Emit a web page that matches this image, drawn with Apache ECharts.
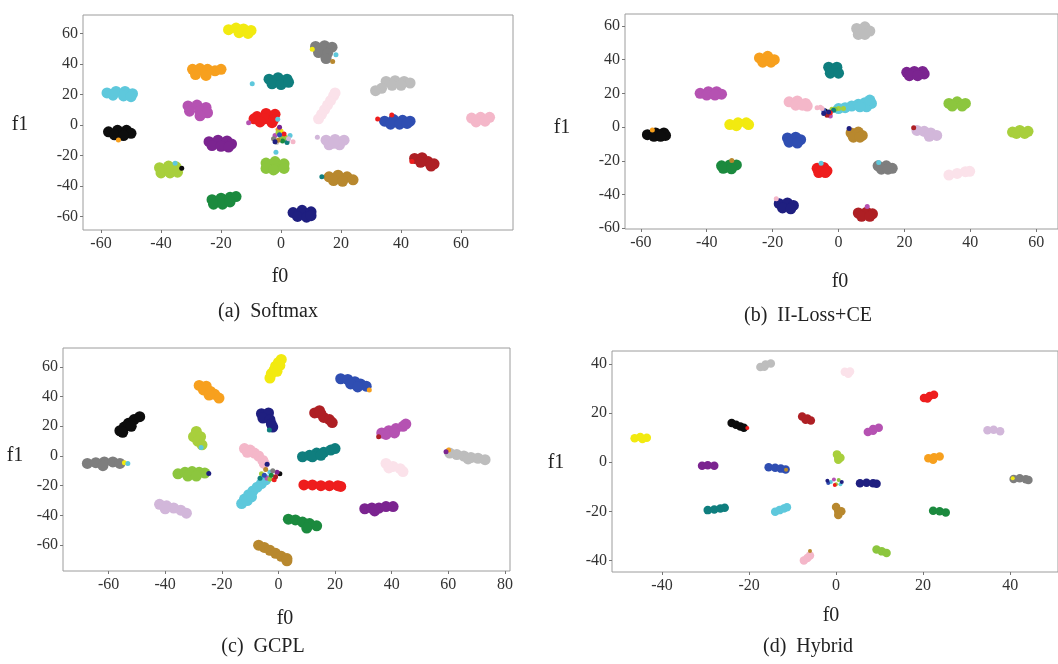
<!DOCTYPE html>
<html>
<head>
<meta charset="utf-8">
<script src="https://cdn.jsdelivr.net/npm/echarts@6/dist/echarts.min.js"></script>
<style>
html,body{margin:0;padding:0;background:#fff;}
#chart{width:1058px;height:664px;}
</style>
</head>
<body>
<div id="chart"></div>
<script>
// ---- classes ----
const classNames = ['black','yellow','orange','cyan','magenta','purple','yellowgreen','lime','green','gray',
  'teal','red','faintpink','silver','blue','lavender','darkred','gold','navy','pink'];
const classColors = ['#0d0d0d','#f2ea10','#f7a01e','#5ec8dc','#b552b2','#7b2490','#a8cf3c','#8cc63e','#1b8a3e','#7e7e7e',
  '#0f7e7e','#ee1d1d','#fbe2ea','#bdbdbd','#2f4eb2','#d2b7da','#ae1f24','#b8882e','#1f1f80','#f4b7c9'];

// ---- panel titles / axis tick values ----
const panelTitles = ['(a)  Softmax', '(b)  II-Loss+CE', '(c)  GCPL', '(d)  Hybrid'];
const xTicksA = [-60,-40,-20,0,20,40,60];
const yTicksA = [-60,-40,-20,0,20,40,60];
const xTicksB = [-60,-40,-20,0,20,40,60];
const yTicksB = [-60,-40,-20,0,20,40,60];
const xTicksC = [-60,-40,-20,0,20,40,60,80];
const yTicksC = [-60,-40,-20,0,20,40,60];
const xTicksD = [-40,-20,0,20,40];
const yTicksD = [-40,-20,0,20,40];

// ---- (a) Softmax: [class, points] ----
const softmaxClusters = [
  [1, [[-17.5,62.5],[-15,63.5],[-12.5,63],[-10,62],[-14,60.5],[-11,60]]],
  [9, [[11.5,51.5],[14.5,52],[17,51],[12.5,47.5],[15.5,47],[15,43.5]]],
  [2, [[-29.5,36.5],[-27,37],[-24.5,36.5],[-22,35.5],[-28.5,33],[-25,32.5],[-20,36.5]]],
  [10, [[-4,30],[-1,31],[2,30],[-3,27],[0,26.5],[2.5,28]]],
  [3, [[-58,21],[-55,22],[-52,22],[-49.5,20.5],[-56,19.5],[-52.5,19],[-50,18.5]]],
  [13, [[35,28.5],[38,29],[41,28.5],[43,27.5],[37,26],[40,26],[33.5,24],[31.5,22.5]]],
  [12, [[12.5,4],[13.5,7],[14.5,10],[15.5,13],[16.5,16],[17.5,19],[18,21]]],
  [4, [[-31,12.5],[-28,13],[-25,11.5],[-30.5,9],[-27,9],[-24.5,8],[-27,6]]],
  [11, [[-8,5.5],[-5,7.5],[-2,7],[-9,4],[-5.5,4],[-2.5,3.5],[-7,2],[-3,1.5]]],
  [14, [[34.5,2.5],[37.5,3.5],[40.5,3],[43,2.5],[36.5,0.5],[39.5,0.5],[42,1]]],
  [19, [[63.5,4.5],[66.5,5],[69.5,5],[65,2],[68,2.5]]],
  [0, [[-57.5,-4.5],[-54.5,-3.5],[-51.5,-3.5],[-50,-5.5],[-55.5,-6.5],[-52.5,-7]]],
  [5, [[-24,-11],[-21,-10],[-18,-10.5],[-16.5,-12.5],[-23,-13.5],[-20,-14],[-17.5,-14.5]]],
  [15, [[15,-10],[18,-9.5],[21,-10],[16,-13],[19.5,-13],[17.5,-12]]],
  [6, [[-40.5,-28],[-37.5,-27],[-35,-27.5],[-40,-31.5],[-37,-31.5],[-34.5,-31]]],
  [7, [[-5,-25],[-2,-24],[1,-25.5],[-5,-28.5],[-2,-28.5],[1,-28.5],[-2.5,-29.5]]],
  [17, [[16,-34],[19,-33],[22,-34],[24,-36],[17.5,-36.5],[20.5,-37]]],
  [16, [[44.5,-22],[47,-21.5],[49,-24],[51,-25.5],[46.5,-24.5],[50,-27]]],
  [8, [[-23,-49],[-20,-48],[-17,-47.5],[-15,-47],[-22.5,-52],[-19.5,-52],[-17,-50.5]]],
  [18, [[4,-57.5],[7,-56],[10,-57],[5.5,-60],[8.5,-60.5],[10,-59.5]]]
];
const softmaxStray = [
  [1,10.4,49.7],[3,18.3,46],[17,17.2,41.6],[3,-9.6,27],[11,32.2,3.9],[11,36.9,6.6],[2,-54.2,-9.8],
  [15,12.1,-8.1],[3,-35.3,-25.2],[0,-33.1,-28.4],[3,-1.7,-17.9],[10,13.6,-33.9],[11,43.6,-24],
  [3,-1.1,3.7],[4,-10.8,1.5],
  [6,-1,-5],[4,-2,-7],[7,0,-8],[9,-2.5,-9],[17,-1,-10],[11,1,-6],[8,0.5,-10.5],[18,-2,-11],
  [15,2.5,-9],[6,1.5,-8],[14,-0.5,-6.5],[0,2,-10],[19,4,-11],[2,-1,-3],[5,-0.5,-1.5],[7,1,-9.5],
  [13,-1.5,-11.5],[3,3,-7],[1,0,-4],[10,2,-11.5]
];

// ---- (b) II-Loss+CE ----
const iilossClusters = [
  [13, [[5.5,58.5],[8,59.5],[9.5,57],[6,55],[8,55]]],
  [2, [[-24,41],[-21.5,42],[-19.5,40],[-23,38.5],[-20.5,38.5]]],
  [10, [[-3,35.5],[-0.5,35.5],[-2.5,32],[0,32]]],
  [5, [[20.7,32.5],[23,33],[25.5,33],[26,31.5],[21.5,30.5],[24,30.5]]],
  [4, [[-42,20],[-39.5,21],[-37,21],[-35.5,19.5],[-40,19],[-37.5,19]]],
  [19, [[-15,15],[-12.5,15.5],[-10,14],[-9.5,12.5],[-13,13],[-11,13]]],
  [3, [[0,11],[2,11.5],[4,12.5],[6,13.5],[8,14.5],[10,14],[8.5,12],[6.5,12],[9.5,16]]],
  [7, [[33.5,14],[36,15],[38.5,14],[34.5,12.5],[37.5,12.5]]],
  [1, [[-33,1.5],[-30.5,2.5],[-28,2.5],[-27.3,1.5],[-31,0.8]]],
  [0, [[-58,-4.5],[-55.5,-3.5],[-53,-3.5],[-52.5,-5],[-56,-5.5],[-54,-5.5]]],
  [14, [[-15.5,-6.5],[-13,-6],[-11.5,-7.5],[-15,-9],[-12.5,-9.5]]],
  [17, [[3.8,-3.5],[6,-3],[7.2,-5],[4.5,-6],[6.5,-6]]],
  [15, [[23.8,-2],[26,-2.5],[28,-3.5],[29.8,-5],[27.5,-5.5]]],
  [6, [[52.8,-3],[55,-2],[57.5,-2.5],[54,-3.8],[56.5,-3.8]]],
  [8, [[-35.5,-23],[-33,-22.5],[-31,-22.5],[-35,-24.5],[-32.5,-24.8]]],
  [11, [[-6.5,-24.5],[-4.5,-24],[-3.5,-26],[-6,-27],[-4,-27]]],
  [9, [[12,-23],[14.5,-23],[16.3,-24.5],[13,-25],[15,-25]]],
  [12, [[33.5,-28.5],[36,-27.5],[38.5,-26.5],[39.8,-26.3]]],
  [18, [[-18,-45.5],[-15.5,-45],[-13.7,-46.5],[-17,-48],[-14.5,-48.5]]],
  [16, [[6,-51],[8.5,-50.5],[10.3,-51.5],[7,-53],[9.5,-53]]]
];
const iilossStray = [
  [2,-56.5,-1.8],[18,3.2,-0.8],[16,22.8,-0.4],[17,-32.4,-19.9],[3,-5.3,-21.5],[3,12.2,-21.1],
  [19,-18.9,-42.6],[4,8.7,-47.1],
  [14,-4.5,10],[18,-3,9],[6,-2,10.5],[4,-3.5,8],[19,-5,11],[10,-1.5,10],[0,-4,9.5],[11,-2.5,8.5],
  [3,-1,11],[16,-3.5,7],[7,-1,10.5],[6,0,11],[6,1.5,11],[19,-6.5,11.5],[19,-5.5,11.8],[18,-4.5,8],[4,-2.5,6.5]
];

// ---- (c) GCPL ----
const gcplClusters = [
  [1, [[-3,52.5],[-2.5,55.5],[-1.5,58],[-1,60.5],[0,63],[1,65],[-0.5,57],[0.5,61]]],
  [2, [[-28,47.5],[-25.5,47],[-26.5,44.5],[-24,43.5],[-22.5,41.5],[-21,39],[-24.5,41]]],
  [14, [[22,52],[24.5,51.5],[27,50],[29,48.5],[31,47],[25.5,48.5],[28,46.5]]],
  [0, [[-56,17],[-54.5,19.5],[-53,22],[-51,24.5],[-49,26.5],[-55,16],[-52,20]]],
  [18, [[-6,28.5],[-3.5,29],[-5.5,25.5],[-3,24.5],[-2.5,21.5],[-2,19.5]]],
  [16, [[12.8,29],[15,28.5],[16,26],[18,24.5],[19,22.5],[14.5,30.5]]],
  [4, [[36.5,15.5],[39,17],[41.5,18.5],[44,20],[45,21.5],[38,14.5],[41,15.5]]],
  [6, [[-29,16.5],[-30,13],[-27.5,13],[-28.5,10],[-27,7.5]]],
  [19, [[-12,5],[-10,4],[-8.5,2],[-7,0],[-5.5,-3],[-5,-5],[-11,2.5]]],
  [10, [[8.5,-0.5],[11,0.5],[13.5,2],[16,2.5],[18.5,4],[20,5],[12,-0.5],[15,0.5]]],
  [12, [[38,-5],[40.5,-7],[43,-8.5],[44,-10.5],[39,-8]]],
  [13, [[60.5,2],[63,1],[65.5,0],[68,-1],[70.5,-1.5],[73,-2.5],[67,-2]]],
  [9, [[-67.5,-5],[-64.5,-4.5],[-61.5,-4],[-58.5,-4],[-56,-5],[-62,-6.5]]],
  [7, [[-35.5,-12],[-33,-11],[-30.5,-10.5],[-28,-11],[-26,-11.5],[-32,-13.5],[-29,-13.5]]],
  [3, [[-13,-32],[-12,-29],[-10.5,-26],[-9,-23.5],[-7.5,-21],[-6,-18.5],[-4.5,-16],[-11,-30],[-9.5,-27.5]]],
  [11, [[9,-19.5],[12,-19.5],[15,-20],[18,-20],[21,-20],[22,-20.5]]],
  [15, [[-42,-32.5],[-39.5,-33.5],[-37,-35],[-34.5,-36.5],[-32.5,-38.5],[-40,-35.5]]],
  [5, [[30.5,-35.5],[33,-35],[35.5,-35],[38,-34],[40.5,-34],[34,-37]]],
  [8, [[3.5,-42.5],[6,-43],[8.5,-44.5],[11,-45.5],[13.5,-47],[10,-48.5]]],
  [17, [[-7,-60],[-5,-61.5],[-3,-63.5],[-1,-65.5],[1,-67.5],[3,-69],[3,-70.5]]]
];
const gcplStray = [
  [2,32.1,44.5],[10,-3.2,17.5],[16,35.4,13],[3,-27.3,5.8],[2,60.1,4],[5,59.2,2.9],[1,-54.4,-4.5],
  [3,-53.2,-5],[18,-24.6,-11.7],
  [18,-4,-5.5],[0,0.5,-12],[11,-1.5,-16],[4,-4,-15],[3,-3,-11],[14,-5,-13],[6,-6,-12],[9,-2,-10],
  [16,-1,-14],[7,-3,-15.5],[17,-4.5,-9],[5,-0.5,-11],[8,-2.5,-13],[10,-6.5,-15]
];

// ---- (d) Hybrid ----
const hybridClusters = [
  [13, [[-17.4,38.8],[-16.2,39.8],[-15,40.2],[-16.5,38.9]]],
  [12, [[2,36.8],[3.2,37],[2.8,36]]],
  [11, [[20.2,26.2],[21.5,27],[22.5,27.5],[21,26]]],
  [0, [[-24,16],[-23,15.3],[-22,14.6],[-21.2,14]]],
  [16, [[-7.8,18.6],[-6.6,17.8],[-5.8,17],[-7,17.3]]],
  [4, [[7.3,12.3],[8.5,13.5],[9.8,14],[8.5,12.8]]],
  [15, [[34.8,13],[36.2,13.2],[37.7,12.6]]],
  [1, [[-46.3,9.8],[-45,10.3],[-43.5,10],[-44.5,9.5]]],
  [6, [[0.2,3.2],[0.5,2],[0.5,1],[1,1.8]]],
  [2, [[21.2,1.6],[22.5,2],[23.8,2.3],[22.3,1]]],
  [5, [[-30.8,-1.4],[-29.5,-1.2],[-28,-1.4]]],
  [14, [[-15.5,-2],[-14,-2.2],[-12.7,-2.6],[-11.6,-3]]],
  [18, [[5.5,-8.6],[7,-8.4],[8.5,-8.6],[9.3,-8.8]]],
  [9, [[40.8,-6.8],[42.2,-6.5],[43.6,-6.9],[44.2,-7.2]]],
  [10, [[-29.5,-19.5],[-28,-19.2],[-26.6,-18.8],[-25.6,-18.5]]],
  [3, [[-14,-20.2],[-13,-19.5],[-12,-18.8],[-11.3,-18.3]]],
  [17, [[0,-18.2],[0.5,-20],[0.5,-21.5],[1.2,-20]]],
  [8, [[22.3,-19.8],[23.8,-20],[25.2,-20.5]]],
  [7, [[9.3,-35.5],[10.5,-36.3],[11.6,-37]]],
  [19, [[-7.4,-40],[-6.6,-39],[-6,-38]]]
];
const hybridStray = [
  [11,-20.4,13.9],[17,-11.5,-3.1],[1,40.6,-6.5],[17,-6,-36.1],
  [18,1.3,-8],[3,-1.2,-8],[4,-0.5,-7],[6,0,-9],[14,-1.8,-8.5],[7,0.6,-7.2],[11,-0.3,-9.3],[18,-2,-7.5],[3,1,-9]
];

// ---- layout (pixels) ----
const grids = [
  {left:83, top:15, width:430, height:215},
  {left:625, top:14, width:437, height:215},
  {left:63, top:348, width:447, height:223},
  {left:612, top:351, width:450, height:221}
];
const xRanges = [[-66,77.3],[-64.8,66.6],[-76.1,81.8],[-51.5,51]];
const yRanges = [[-68.9,72.1],[-60.5,67.1],[-77.4,72.7],[-44.7,45.3]];
const xTicks = [xTicksA,xTicksB,xTicksC,xTicksD];
const yTicks = [yTicksA,yTicksB,yTicksC,yTicksD];
const clusterSets = [softmaxClusters, iilossClusters, gcplClusters, hybridClusters];
const straySets = [softmaxStray, iilossStray, gcplStray, hybridStray];
const blobSize = [11,11,11,8.5];
const straySize = [5,5,5,4];

const FONT = '"Liberation Serif","DejaVu Serif",serif';
const axisColor = '#9c9c9c';

const option = {
  animation:false,
  backgroundColor:'#fff',
  grid: grids.map(g => Object.assign({show:true, borderColor:axisColor, borderWidth:1, backgroundColor:'#fff', containLabel:false}, g)),
  xAxis: grids.map((g,i) => ({
    type:'value', gridIndex:i, min:xRanges[i][0], max:xRanges[i][1], position:'bottom',
    axisLine:{show:false, onZero:false}, splitLine:{show:false},
    axisTick:{show:true, length:3, customValues:xTicks[i], lineStyle:{color:'#777'}},
    axisLabel:{customValues:xTicks[i], margin:6, color:'#333', fontFamily:FONT, fontSize:16}
  })),
  yAxis: grids.map((g,i) => ({
    type:'value', gridIndex:i, min:yRanges[i][0], max:yRanges[i][1], position:'left',
    axisLine:{show:false, onZero:false}, splitLine:{show:false},
    axisTick:{show:true, length:3, customValues:yTicks[i], lineStyle:{color:'#777'}},
    axisLabel:{customValues:yTicks[i], margin:5, color:'#333', fontFamily:FONT, fontSize:16}
  })),
  series: [],
  graphic: []
};

clusterSets.forEach((set, p) => {
  set.forEach(([cls, pts]) => {
    option.series.push({
      type:'scatter', name:classNames[cls], xAxisIndex:p, yAxisIndex:p,
      data:pts, symbol:'circle', symbolSize:blobSize[p], silent:true,
      itemStyle:{color:classColors[cls], opacity:1}
    });
  });
});
straySets.forEach((set, p) => {
  classNames.forEach((nm, cls) => {
    const pts = set.filter(s => s[0] === cls).map(s => [s[1], s[2]]);
    if (!pts.length) return;
    option.series.push({
      type:'scatter', name:nm, xAxisIndex:p, yAxisIndex:p, z:3,
      data:pts, symbol:'circle', symbolSize:straySize[p], silent:true,
      itemStyle:{color:classColors[cls], opacity:1}
    });
  });
});

// axis names and panel captions
const txt = (s, x, y, size) => ({type:'text', x:x, y:y, silent:true,
  style:{text:s, font: size + 'px ' + FONT, fill:'#222', align:'center', verticalAlign:'middle'}});
option.graphic = [
  txt('f1', 20, 125, 20), txt('f0', 280, 277, 20), txt(panelTitles[0], 268, 312, 20),
  txt('f1', 562, 128, 20), txt('f0', 840, 282, 20), txt(panelTitles[1], 808, 316, 20),
  txt('f1', 15, 456, 20), txt('f0', 285, 619, 20), txt(panelTitles[2], 263, 647, 20),
  txt('f1', 556, 463, 20), txt('f0', 831, 616, 20), txt(panelTitles[3], 808, 647, 20)
];

const chart = echarts.init(document.getElementById('chart'), null, {renderer:'canvas'});
chart.setOption(option);
</script>
</body>
</html>
